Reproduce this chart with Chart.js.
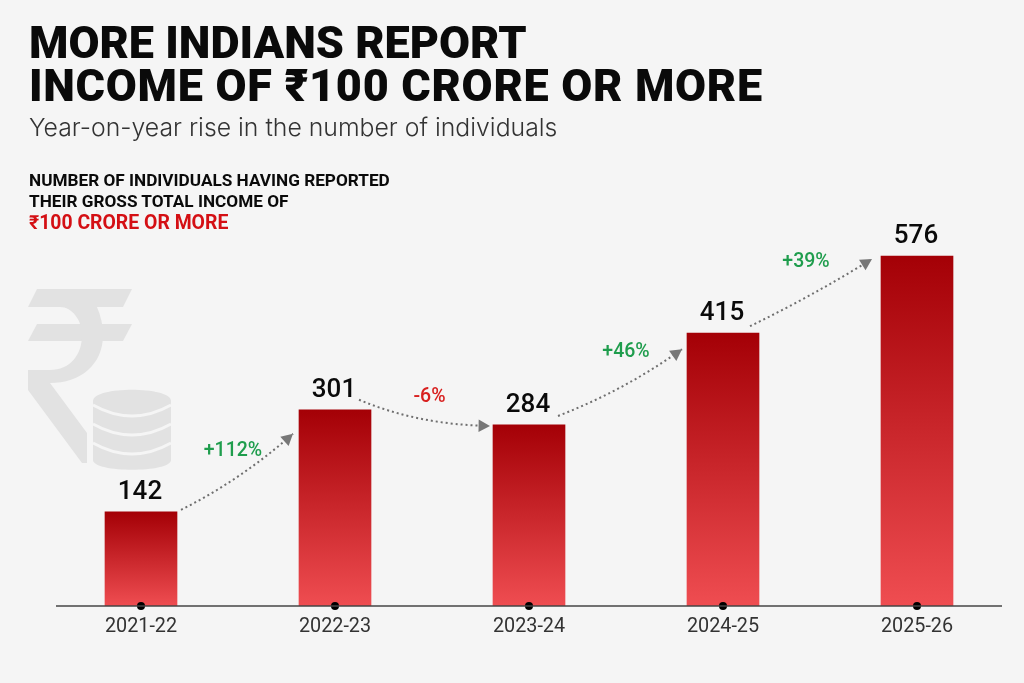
<!DOCTYPE html>
<html>
<head>
<meta charset="utf-8">
<title>More Indians report income of ₹100 crore or more</title>
<script src="https://cdn.jsdelivr.net/npm/chart.js@4/dist/chart.umd.min.js"></script>
<style>
  html, body { margin: 0; padding: 0; background: #f5f5f5; }
  body { width: 1024px; height: 683px; position: relative; overflow: hidden; font-family: Roboto, "Noto Sans", sans-serif; color: #0a0a0a; }
  #wrap, #mark { position: absolute; left: 0; top: 0; width: 1024px; height: 683px; }
  h1 { position: absolute; left: 29px; top: 21px; margin: 0; font-size: 45px; line-height: 43px; font-weight: 900; white-space: nowrap; }
  h1 span { letter-spacing: 0.7px; }
  .sub { position: absolute; left: 29px; top: 112px; font-family: Inter, sans-serif; font-size: 24.8px; line-height: 30px; font-weight: 300; color: #333; white-space: nowrap; }
  .note { position: absolute; left: 29px; top: 170px; font-size: 17.2px; line-height: 20.5px; font-weight: 700; white-space: nowrap; }
  .note span { color: #d40f14; font-size: 19.4px; position: relative; top: 2px; }
</style>
</head>
<body>
<svg id="mark" viewBox="0 0 1024 683">
  <!-- rupia y monedas de fondo -->
  <g fill="#e2e2e2">
    <path d="M37 289H132L123 307H28Z"/>
    <path d="M37 324H132L123 341H28Z"/>
    <path d="M60 307H97C101 316 103 326 103 335C103 365 80 383 50 383L87 433V463H82L28 390V370H50C70 370 82 355 82 335C82 320 72 307 60 307Z"/>
    <path d="M93 401C93 386 171 386 171 401V460C171 473 93 473 93 460Z"/>
  </g>
  <g fill="none" stroke="#f5f5f5" stroke-width="3">
    <path d="M93 405Q132 427 171 405"/>
    <path d="M93 424Q132 446 171 424"/>
    <path d="M93 443Q132 465 171 443"/>
  </g>
</svg>
<div id="wrap"><canvas id="chart"></canvas></div>
<h1>MORE INDIANS REPORT<br><span>INCOME OF ₹100 CRORE OR MORE</span></h1>
<div class="sub">Year-on-year rise in the number of individuals</div>
<div class="note">NUMBER OF INDIVIDUALS HAVING REPORTED<br>THEIR GROSS TOTAL INCOME OF<br><span>₹100 CRORE OR MORE</span></div>
<script>
// Datos
const years = ['2021-22', '2022-23', '2023-24', '2024-25', '2025-26'];
const printedValues = [142, 301, 284, 415, 576];
// Las barras del original no son proporcionales a sus rótulos: alturas medidas, en unidades de 576 = barra más alta
const barHeights = [155, 323, 298, 449, 576];
const baseline = [0, 0, 0, 0, 0];
const changes = ['+112%', '-6%', '+46%', '+39%'];

const GREEN = '#1f9d4d';
const RED = '#d8201f';

// Flechas punteadas: desplazamientos respecto a las barras que unen
const arrowStyle = [
  { sx: 4, sy: -2, ex: -6, ey: 24, cx: 4, cy: 8, lx: -4, ly: 451 - 472 },
  { sx: -12, sy: -10, ex: -3, ey: 1, cx: -6, cy: 12, lx: 5, ly: 397 - 413 },
  { sx: -7, sy: -9, ex: -5, ey: 16, cx: 4, cy: 8, lx: 6, ly: 352 - 382 },
  { sx: -9, sy: -7, ex: -9, ey: 3, cx: 0, cy: 4, lx: -5, ly: 262 - 292 }
];

const arrowsPlugin = {
  id: 'arrows',
  afterDatasetsDraw(chart) {
    const ctx = chart.ctx;
    const bars = chart.getDatasetMeta(0).data;
    ctx.save();
    // eje horizontal
    const yAxis = chart.scales.y.getPixelForValue(0);
    ctx.strokeStyle = '#444';
    ctx.lineWidth = 1.5;
    ctx.beginPath();
    ctx.moveTo(56, yAxis);
    ctx.lineTo(1002, yAxis);
    ctx.stroke();

    // valores encima de cada barra
    ctx.fillStyle = '#0a0a0a';
    ctx.font = '500 26px Roboto, sans-serif';
    ctx.textAlign = 'center';
    ctx.textBaseline = 'alphabetic';
    bars.forEach((bar, i) => {
      ctx.fillText(printedValues[i], bar.x - 1, bar.y - 13);
    });

    changes.forEach((label, i) => {
      const a = bars[i], b = bars[i + 1], st = arrowStyle[i];
      const half = a.width / 2;
      const x0 = a.x + half + st.sx, y0 = a.y + st.sy;
      const x1 = b.x - half + st.ex, y1 = b.y + st.ey;
      const cpx = (x0 + x1) / 2 + st.cx, cpy = (y0 + y1) / 2 + st.cy;

      ctx.strokeStyle = '#6f6f6f';
      ctx.lineWidth = 2;
      ctx.setLineDash([2, 3]);
      ctx.beginPath();
      ctx.moveTo(x0, y0);
      ctx.quadraticCurveTo(cpx, cpy, x1, y1);
      ctx.stroke();
      ctx.setLineDash([]);

      // punta de flecha
      const ang = Math.atan2(y1 - cpy, x1 - cpx);
      ctx.fillStyle = '#777';
      ctx.beginPath();
      ctx.moveTo(x1, y1);
      ctx.lineTo(x1 - 13 * Math.cos(ang - 0.5), y1 - 13 * Math.sin(ang - 0.5));
      ctx.lineTo(x1 - 13 * Math.cos(ang + 0.5), y1 - 13 * Math.sin(ang + 0.5));
      ctx.closePath();
      ctx.fill();

      // porcentaje
      ctx.fillStyle = label[0] === '-' ? RED : GREEN;
      ctx.font = '500 19.5px Roboto, sans-serif';
      ctx.textBaseline = 'middle';
      ctx.fillText(label, (x0 + x1) / 2 + st.lx, (y0 + y1) / 2 + st.ly);
      ctx.textBaseline = 'alphabetic';
    });
    ctx.restore();
  }
};

function barGradient(context) {
  const chart = context.chart;
  if (!chart.chartArea) return '#c81e24';
  const y = chart.scales.y;
  const g = chart.ctx.createLinearGradient(0, y.getPixelForValue(context.raw), 0, y.getPixelForValue(0));
  g.addColorStop(0, '#a40006');
  g.addColorStop(1, '#ef4d51');
  return g;
}

document.addEventListener('DOMContentLoaded', function() {
  new Chart(document.getElementById('chart').getContext('2d'), {
    data: {
      labels: years,
      datasets: [
        { type: 'bar', data: barHeights, backgroundColor: barGradient, barThickness: 72, order: 2 },
        { type: 'line', data: baseline, showLine: false, pointRadius: 4, pointBackgroundColor: '#000',
          pointBorderWidth: 0, clip: false, order: 1 }
      ]
    },
    options: {
      responsive: true,
      maintainAspectRatio: false,
      animation: false,
      devicePixelRatio: 1,
      layout: { padding: { left: 44, right: 10, top: 205, bottom: 0 } },
      plugins: { legend: { display: false }, tooltip: { enabled: false }, title: { display: false } },
      scales: {
        y: { display: false, min: 0, max: 660 },
        x: {
          grid: { display: false },
          border: { display: false },
          ticks: { color: '#333', padding: 1, maxRotation: 0, font: { family: 'Roboto, sans-serif', size: 19.8 } },
          afterFit(scale) { scale.height = 77; }
        }
      }
    },
    plugins: [arrowsPlugin]
  });
});
</script>
</body>
</html>
